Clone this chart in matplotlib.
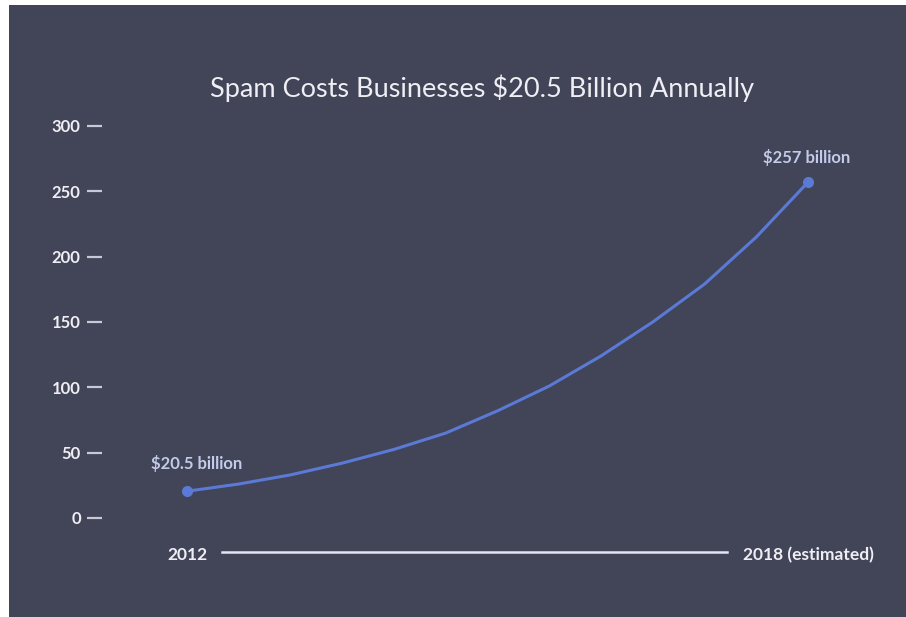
import matplotlib.pyplot as plt
from matplotlib.patches import Rectangle

# data (billions of dollars), curve read every half year
t_years = [2012, 2012.5, 2013, 2013.5, 2014, 2014.5, 2015,
           2015.5, 2016, 2016.5, 2017, 2017.5, 2018]
cost = [20.5, 26, 33, 42, 52.5, 65, 82, 101, 124, 150, 179, 215, 257]
end_labels = ['$20.5 billion', '$257 billion']
x_labels = ['2012', '2018 (estimated)']
y_ticks = [0, 50, 100, 150, 200, 250, 300]

bg = '#424457'
line_col = '#5a7ad6'
text_col = '#eeeef4'
note_col = '#c3cbea'

plt.rcParams['font.family'] = ['Lato', 'DejaVu Sans']

fig = plt.figure(figsize=(9.06, 6.17), dpi=100, facecolor='white')
fig.patches.append(Rectangle((9 / 906, 0), 1, 612 / 617, transform=fig.transFigure,
                             facecolor=bg, edgecolor='none', zorder=-1))

# axes box: 2012 -> 2018 spans px 187..808, 0 -> 300 spans px 518..126
ax = fig.add_axes([187 / 906, 1 - 518 / 617, 621 / 906, 392 / 617])
ax.set_zorder(2)
ax.set_facecolor('none')
ax.set_xlim(t_years[0], t_years[-1])
ax.set_ylim(0, 300)

ax.plot(t_years, cost, color=line_col, lw=2.2, solid_capstyle='round',
        solid_joinstyle='round', clip_on=False)
ax.plot([t_years[0], t_years[-1]], [cost[0], cost[-1]], 'o', color=line_col, ms=7, clip_on=False)

ax.annotate(end_labels[0], (t_years[0], cost[0]), xytext=(7, 20), textcoords='offset points',
            ha='center', va='center', fontsize=12, fontweight='bold', color=note_col)
ax.annotate(end_labels[1], (t_years[-1], cost[-1]), xytext=(-1, 18), textcoords='offset points',
            ha='center', va='center', fontsize=12, fontweight='bold', color=note_col)

for s in ax.spines.values():
    s.set_visible(False)
# ticks sit ~85 px left of the 2012 point
ax.spines['left'].set_position(('outward', 61))

ax.set_yticks(y_ticks)
ax.set_yticklabels([str(v) for v in y_ticks])
ax.tick_params(axis='y', direction='out', length=10.5, width=1.6, color='#c8c9d4',
               pad=5, labelsize=12, labelcolor=text_col)
for lab in ax.get_yticklabels():
    lab.set_fontweight('bold')

ax.set_xticks([t_years[0], t_years[-1]])
ax.set_xticklabels(x_labels)
ax.tick_params(axis='x', length=0, pad=21, labelsize=12.5, labelcolor=text_col)
for lab in ax.get_xticklabels():
    lab.set_fontweight('bold')

# baseline between the two year labels
ax.plot([2012.34, 2017.22], [-0.087, -0.087], color='#e4e6f4', lw=1.8,
        transform=ax.get_xaxis_transform(), clip_on=False)

fig.text(482 / 906, 1 - 88 / 617, 'Spam Costs Businesses $20.5 Billion Annually',
         ha='center', va='center', fontsize=19.5, color=text_col, zorder=3)

fig.savefig('out.png', dpi=100, facecolor='white')
